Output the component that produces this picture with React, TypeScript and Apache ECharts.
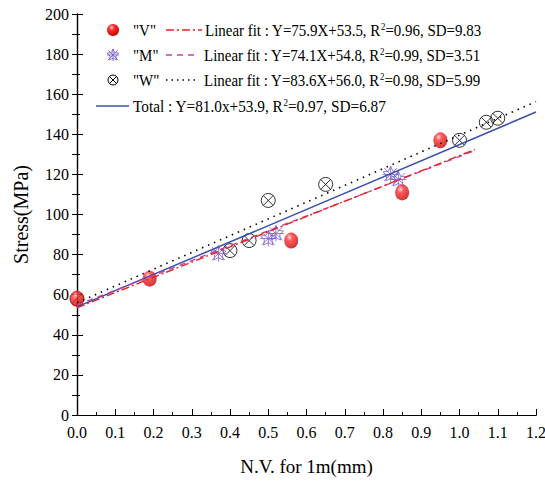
import React, { useEffect, useRef } from "react";
import * as echarts from "echarts";

const vX = [0.0, 0.19, 0.56, 0.85, 0.95];
const vY = [58, 68, 87, 111, 137];
const mX = [0.37, 0.5, 0.52, 0.82, 0.84];
const mY = [80.5, 88, 90.5, 120, 117.5];
const wX = [0.0, 0.4, 0.45, 0.5, 0.65, 1.0, 1.07, 1.1];
const wY = [58, 82, 87, 107, 115, 137, 146, 148];

const fitVX = [0, 1.04];
const fitVY = [53.5, 132.4];
const fitMX = [0, 1.04];
const fitMY = [54.8, 131.9];
const fitWX = [0, 1.2];
const fitWY = [56.0, 156.3];
const fitTX = [0, 1.2];
const fitTY = [53.9, 151.1];

const xTickLabels = ["0.0", "0.1", "0.2", "0.3", "0.4", "0.5", "0.6", "0.7", "0.8", "0.9", "1.0", "1.1", "1.2"];

const legendNames = ['"V"', '"M"', '"W"'];
const legendFits = [
  "Linear fit : Y=75.9X+53.5, R{sup|2}=0.96, SD=9.83",
  "Linear fit : Y=74.1X+54.8, R{sup|2}=0.99, SD=3.51",
  "Linear fit : Y=83.6X+56.0, R{sup|2}=0.98, SD=5.99",
];
const legendTotal = "Total : Y=81.0x+53.9, R{sup|2}=0.97, SD=6.87";

const STAR_D =
  "M0,-10 L2.9,-4 L9.5,-3.1 L4.7,1.5 L5.9,8.1 L0,5 L-5.9,8.1 L-4.7,1.5 L-9.5,-3.1 L-2.9,-4 Z M-8,-8 L8,8 M8,-8 L-8,8 M0,-10 L0,10 M-10,0 L10,0";
const CIRCX_D =
  "M10,0 A10,10 0 1,1 -10,0 A10,10 0 1,1 10,0 Z M-7,-7 L7,7 M7,-7 L-7,7";

const FONT = "'Liberation Serif', 'Times New Roman', serif";
const RED = "#e8231f";
const PURPLE = "#7a5cc8";
const MAGENTA = "#c2449c";
const BLUE = "#3a4fb0";

const zip = (xs: number[], ys: number[]) => xs.map((x, i) => [x, ys[i]]);

const ballColor = {
  type: "radial",
  x: 0.38,
  y: 0.3,
  r: 0.75,
  colorStops: [
    { offset: 0, color: "#ffd0d0" },
    { offset: 0.3, color: "#ff3030" },
    { offset: 1, color: "#c00000" },
  ],
};

export default function App() {
  const ref = useRef<HTMLDivElement>(null);
  useEffect(() => {
    document.body.style.margin = "0";
    if (!ref.current) return;
    try {
      echarts.graphic.registerShape("starSym", echarts.graphic.extendPath(STAR_D, {}) as any);
      echarts.graphic.registerShape("circxSym", echarts.graphic.extendPath(CIRCX_D, {}) as any);
    } catch (e) {}
    const chart = echarts.init(ref.current, null, { renderer: "svg" });
    const rich = { sup: { fontSize: 10, fontFamily: FONT, verticalAlign: "top", padding: [0, 0, 6, 0] } };
    const textStyle = (text: string) => ({
      text,
      fontSize: 17,
      fontFamily: FONT,
      fill: "#000",
      textVerticalAlign: "middle",
      rich,
    });
    const SX = 0.88;
    const rows = [30, 55, 80];
    const lineDash: any[] = [[8, 3, 2, 3], [6, 5], [1.5, 4]];
    const lineColors = [RED, MAGENTA, "#000"];
    const lineEnds = [202, 195, 198];
    const textX = [205, 204, 204];
    const graphic: any[] = [];
    graphic.push({
      type: "circle",
      shape: { cx: 113, cy: rows[0], r: 6 },
      style: { fill: ballColor },
    });
    graphic.push({
      type: "starSym",
      x: 113,
      y: rows[1],
      scaleX: 0.6,
      scaleY: 0.6,
      style: { fill: "none", stroke: PURPLE, lineWidth: 1.5 },
    });
    graphic.push({
      type: "circxSym",
      x: 113,
      y: rows[2],
      scaleX: 0.5,
      scaleY: 0.5,
      style: { fill: "none", stroke: "#000", lineWidth: 2 },
    });
    rows.forEach((y, i) => {
      graphic.push({ type: "text", x: 133, y, scaleX: SX, style: textStyle(legendNames[i]) });
      graphic.push({
        type: "line",
        shape: { x1: 166, y1: y, x2: lineEnds[i], y2: y },
        style: { stroke: lineColors[i], lineWidth: 1.3, lineDash: lineDash[i] },
      });
      graphic.push({ type: "text", x: textX[i], y, scaleX: SX, style: textStyle(legendFits[i]) });
    });
    graphic.push({
      type: "line",
      shape: { x1: 96, y1: 106, x2: 129, y2: 106 },
      style: { stroke: BLUE, lineWidth: 1.5 },
    });
    graphic.push({ type: "text", x: 133, y: 106, scaleX: 0.9, style: textStyle(legendTotal) });

    const axisLabel = { fontFamily: FONT, fontSize: 16, color: "#000" };
    const axisLine = { show: true, lineStyle: { color: "#000", width: 1.2 } };
    chart.setOption({
      animation: false,
      grid: { left: 77, right: 9, top: 14, bottom: 66, containLabel: false, outerBoundsMode: "none" },
      xAxis: [
        {
          type: "value",
          min: 0,
          max: 1.2,
          interval: 0.1,
          name: "N.V. for 1m(mm)",
          nameLocation: "middle",
          nameGap: 42,
          nameTextStyle: { fontFamily: FONT, fontSize: 19, color: "#000" },
          axisLine,
          axisTick: { inside: true, length: 6, lineStyle: { color: "#000" } },
          minorTick: { show: true, splitNumber: 2, length: 3, lineStyle: { color: "#000" } },
          splitLine: { show: false },
          axisLabel: {
            ...axisLabel,
            margin: 9,
            hideOverlap: false,
            showMinLabel: true,
            showMaxLabel: true,
            formatter: (v: any) => xTickLabels[Math.round(Number(v) * 10)] ?? String(v),
          },
        },
        {
          type: "value",
          position: "top",
          min: 0,
          max: 1.2,
          interval: 0.1,
          axisLine,
          axisTick: { show: false },
          axisLabel: { show: false },
          splitLine: { show: false },
        },
      ],
      yAxis: [
        {
          type: "value",
          min: 0,
          max: 200,
          interval: 20,
          name: "Stress(MPa)",
          nameLocation: "middle",
          nameGap: 46,
          nameTextStyle: { fontFamily: FONT, fontSize: 20, color: "#000" },
          axisLine,
          axisTick: { inside: true, length: 6, lineStyle: { color: "#000" } },
          minorTick: { show: true, splitNumber: 2, length: 3, lineStyle: { color: "#000" } },
          splitLine: { show: false },
          axisLabel: { ...axisLabel, margin: 8 },
        },
        {
          type: "value",
          position: "right",
          min: 0,
          max: 200,
          interval: 20,
          axisLine,
          axisTick: { inside: true, length: 5, lineStyle: { color: "#000" } },
          minorTick: { show: true, splitNumber: 2, length: 5, lineStyle: { color: "#000" } },
          axisLabel: { show: false },
          splitLine: { show: false },
        },
      ],
      series: [
        {
          type: "line",
          data: zip(fitWX, fitWY),
          symbol: "none",
          lineStyle: { color: "#000", width: 1.6, type: [1.5, 5] },
        },
        {
          type: "line",
          data: zip(fitTX, fitTY),
          symbol: "none",
          lineStyle: { color: BLUE, width: 1.5 },
        },
        {
          type: "line",
          data: zip(fitMX, fitMY),
          symbol: "none",
          lineStyle: { color: MAGENTA, width: 1.4, type: [6, 5] },
        },
        {
          type: "line",
          data: zip(fitVX, fitVY),
          symbol: "none",
          lineStyle: { color: RED, width: 1.4, type: [8, 3, 2, 3] },
        },
        {
          type: "scatter",
          data: zip(wX, wY),
          symbol: "path://" + CIRCX_D,
          symbolSize: 14,
          clip: false,
          itemStyle: { color: "transparent", borderColor: "#000", borderWidth: 1 },
        },
        {
          type: "scatter",
          data: zip(mX, mY),
          symbol: "path://" + STAR_D,
          symbolSize: 16,
          clip: false,
          itemStyle: { color: "transparent", borderColor: PURPLE, borderWidth: 1 },
        },
        {
          type: "scatter",
          data: zip(vX, vY),
          symbol: "circle",
          symbolSize: [14, 16],
          clip: false,
          itemStyle: { color: ballColor },
        },
      ],
      graphic,
    });
    return () => chart.dispose();
  }, []);
  return <div ref={ref} style={{ width: 545, height: 481 }} />;
}
